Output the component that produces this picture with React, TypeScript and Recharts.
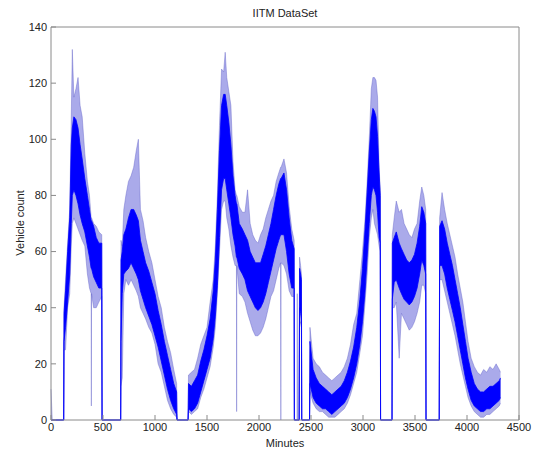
import { ComposedChart, Area, XAxis, YAxis } from 'recharts'

// sample minutes (extra points where the signal drops to zero)
const minutes = [
  0, 12, 122, 125, 140, 160, 180, 195, 205, 220,
  240, 260, 280, 300, 325, 350, 370, 386, 388, 390,
  410, 435, 460, 488, 491, 670, 673, 685, 700, 720,
  745, 770, 795, 820, 840, 860, 885, 910, 940, 970,
  1000, 1030, 1060, 1090, 1120, 1150, 1180, 1208, 1212, 1318,
  1322, 1350, 1380, 1410, 1440, 1470, 1500, 1530, 1560, 1580,
  1600, 1620, 1640, 1660, 1675, 1690, 1710, 1730, 1750, 1770,
  1783, 1785, 1787, 1810, 1840, 1865, 1890, 1915, 1940, 1965,
  1990, 2015, 2040, 2065, 2090, 2115, 2140, 2165, 2190, 2208,
  2210, 2212, 2240, 2265, 2290, 2315, 2338, 2340, 2366, 2368,
  2370, 2386, 2390, 2400, 2408, 2411, 2486, 2490, 2520, 2550,
  2580, 2610, 2640, 2670, 2700, 2730, 2760, 2790, 2820, 2850,
  2880, 2910, 2940, 2970, 2995, 3020, 3040, 3060, 3080, 3095,
  3110, 3125, 3140, 3155, 3166, 3169, 3279, 3282, 3300, 3320,
  3348, 3370, 3395, 3420, 3445, 3470, 3495, 3520, 3545, 3565,
  3585, 3603, 3606, 3733, 3737, 3760, 3785, 3810, 3835, 3860,
  3885, 3910, 3935, 3960, 3985, 4010, 4040, 4070, 4100, 4130,
  4160, 4190, 4220, 4250, 4280, 4310, 4322,
]

// dense part of the trace (bottom / top)
const coreLow = [
  0, 0, 0, 28, 33, 42, 52, 70, 80, 82,
  80, 77, 73, 70, 67, 62, 58, 54, 54, 54,
  51, 49, 47, 47, 0, 0, 28, 45, 52, 53,
  54, 56, 54, 52, 50, 46, 43, 40, 37, 34,
  30, 26, 21, 16, 11, 7, 4, 2, 0, 0,
  4, 3, 4, 6, 10, 14, 18, 22, 29, 37,
  48, 65, 82, 86, 86, 82, 77, 72, 66, 62,
  58, 58, 58, 54, 52, 50, 46, 44, 42, 40,
  39, 40, 42, 45, 49, 53, 57, 61, 64, 66,
  66, 66, 66, 60, 52, 47, 47, 0, 0, 0,
  0, 0, 40, 38, 36, 0, 0, 13, 8, 6,
  5, 4, 4, 3, 2, 3, 4, 5, 6, 8,
  11, 15, 20, 27, 35, 46, 58, 70, 80, 83,
  82, 80, 74, 65, 63, 0, 0, 43, 49, 50,
  47, 45, 43, 42, 41, 42, 44, 47, 52, 57,
  55, 52, 0, 0, 55, 55, 52, 47, 43, 39,
  35, 30, 25, 20, 15, 11, 7, 5, 4, 3,
  3, 4, 4, 5, 6, 7, 8,
]
const coreHigh = [
  0, 0, 0, 38, 46, 60, 72, 98, 104, 108,
  107, 104, 98, 93, 86, 80, 75, 71, 71, 71,
  69, 65, 63, 63, 0, 0, 57, 60, 66, 68,
  72, 75, 75, 73, 71, 64, 60, 56, 53, 49,
  45, 39, 34, 28, 23, 18, 13, 10, 0, 0,
  13, 12, 14, 16, 21, 25, 30, 36, 46, 57,
  75, 96, 112, 116, 116, 112, 106, 98, 87, 80,
  77, 77, 77, 70, 68, 66, 64, 60, 58, 56,
  56, 56, 59, 62, 66, 70, 75, 80, 84, 86,
  86, 86, 88, 82, 72, 64, 61, 0, 0, 0,
  0, 0, 54, 52, 50, 0, 0, 28, 18, 15,
  13, 12, 11, 10, 9, 10, 11, 12, 14, 17,
  21, 26, 33, 43, 54, 68, 81, 95, 107, 111,
  110, 108, 101, 88, 80, 0, 0, 63, 65, 67,
  63, 61, 59, 57, 56, 57, 59, 63, 69, 76,
  74, 70, 0, 0, 69, 71, 68, 63, 59, 55,
  50, 45, 40, 34, 28, 22, 17, 13, 11, 10,
  10, 11, 12, 12, 13, 14, 15,
]

// extremes of the spikes (bottom / top)
const peakLow = [
  0, 0, 0, 25, 25, 40, 45, 62, 70, 72,
  70, 68, 66, 64, 62, 52, 47, 45, 5, 45,
  40, 40, 42, 44, 0, 0, 12, 15, 45, 50,
  48, 50, 48, 46, 44, 40, 38, 36, 33, 31,
  27, 20, 17, 12, 7, 4, 2, 1, 0, 0,
  3, 2, 3, 4, 8, 11, 15, 19, 26, 33,
  45, 60, 75, 78, 78, 72, 68, 62, 58, 55,
  55, 3, 55, 45, 44, 42, 38, 35, 32, 30,
  30, 31, 33, 36, 40, 44, 46, 50, 54, 56,
  0, 56, 55, 52, 46, 44, 44, 0, 0, 0,
  0, 0, 33, 35, 33, 0, 0, 10, 6, 4,
  3, 3, 2, 1, 1, 1, 2, 3, 4, 6,
  9, 13, 17, 24, 30, 42, 52, 65, 72, 75,
  70, 68, 66, 62, 60, 0, 0, 40, 40, 42,
  22, 38, 36, 34, 32, 33, 35, 38, 42, 48,
  48, 45, 0, 0, 50, 50, 46, 42, 38, 34,
  30, 25, 20, 16, 12, 8, 5, 3, 2, 1,
  1, 2, 2, 3, 4, 5, 6,
]
const peakHigh = [
  11, 0, 0, 40, 50, 63, 75, 108, 132, 115,
  118, 122, 112, 108, 95, 85, 80, 72, 72, 72,
  70, 69, 67, 66, 0, 0, 64, 62, 75, 80,
  85, 87, 90, 96, 100, 75, 71, 65, 60, 56,
  50, 44, 40, 33, 28, 24, 18, 13, 0, 0,
  16, 17, 18, 22, 27, 30, 33, 42, 50, 62,
  80, 105, 125, 124, 131, 122, 117, 112, 92, 82,
  80, 80, 80, 76, 74, 74, 82, 70, 66, 64,
  63, 66, 68, 72, 75, 78, 80, 85, 88, 90,
  90, 90, 93, 88, 76, 68, 64, 0, 0, 45,
  0, 0, 58, 55, 52, 0, 0, 33, 22, 20,
  19, 17, 16, 15, 14, 15, 16, 17, 19, 22,
  27, 34, 38, 50, 60, 72, 85, 100, 118, 122,
  122, 121, 115, 90, 82, 0, 0, 66, 72, 78,
  74, 75, 70, 68, 66, 65, 68, 70, 78, 83,
  80, 75, 0, 0, 72, 81, 75, 70, 66, 62,
  58, 52, 47, 42, 35, 28, 22, 19, 17, 16,
  18, 17, 19, 18, 20, 18, 17,
]

const xTicks = [0, 500, 1000, 1500, 2000, 2500, 3000, 3500, 4000, 4500]
const yTicks = [0, 20, 40, 60, 80, 100, 120, 140]

const data = minutes.map((m, i) => ({
  minute: m,
  core: [coreLow[i], coreHigh[i]],
  peak: [peakLow[i], peakHigh[i]],
}))

const font = '"Liberation Sans", Arial, sans-serif'
const frame = '#8a8a8a'
const tickText = { fill: '#222', fontSize: 11, fontFamily: font }

export default function App() {
  return (
    <div style={{ position: 'absolute', left: 0, top: 0, width: 535, height: 450, background: '#fff', fontFamily: font, color: '#222' }}>
      <div style={{ position: 'absolute', left: 0, width: 570, top: 6, textAlign: 'center', fontSize: 11, lineHeight: '14px' }}>
        IITM DataSet
      </div>
      <div style={{ position: 'absolute', left: 0, width: 570, top: 436, textAlign: 'center', fontSize: 11, lineHeight: '14px' }}>
        Minutes
      </div>
      <div
        style={{
          position: 'absolute', left: 20, top: 223, width: 120, marginLeft: -60, marginTop: -7,
          textAlign: 'center', fontSize: 11, lineHeight: '14px', transform: 'rotate(-90deg)',
        }}
      >
        Vehicle count
      </div>
      <ComposedChart width={535} height={450} data={data} margin={{ top: 26, right: 15, bottom: 0, left: 0 }}>
        <XAxis
          dataKey="minute" type="number" domain={[0, 4500]} ticks={xTicks} interval={0}
          height={30} tickSize={-5} tickMargin={8} stroke={frame} tick={tickText}
        />
        <XAxis
          xAxisId="top" orientation="top" type="number" domain={[0, 4500]} ticks={xTicks}
          interval={0} height={1} tickSize={-5} tick={false} stroke={frame}
        />
        <YAxis
          type="number" domain={[0, 140]} ticks={yTicks} interval={0}
          width={51} tickSize={-5} tickMargin={9} stroke={frame} tick={tickText}
        />
        <YAxis
          yAxisId="right" orientation="right" type="number" domain={[0, 140]} ticks={yTicks}
          interval={0} width={1} tickSize={-5} tick={false} stroke={frame}
        />
        <Area
          dataKey="peak" type="linear" fill="#5555d6" fillOpacity={0.5}
          stroke="#6060c8" strokeOpacity={0.6} strokeWidth={0.7} isAnimationActive={false}
        />
        <Area
          dataKey="core" type="linear" fill="#0000ff" fillOpacity={1}
          stroke="#0000ff" strokeWidth={0.8} isAnimationActive={false}
        />
      </ComposedChart>
    </div>
  )
}
